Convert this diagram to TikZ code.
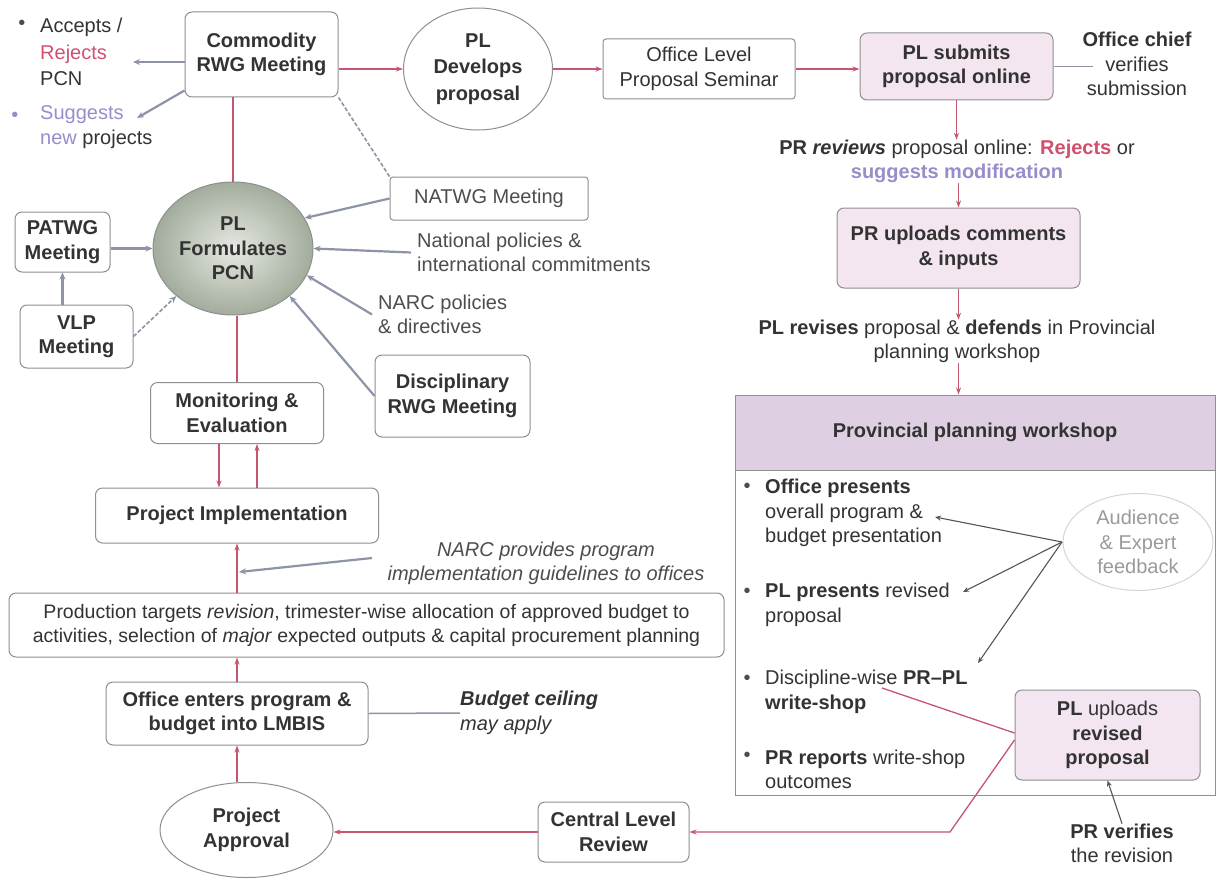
\documentclass[tikz,border=0pt]{standalone}
\usepackage{fontspec}
\setmainfont{Liberation Sans}
\usetikzlibrary{shapes.geometric,arrows.meta,calc}
\definecolor{txt}{HTML}{333333}
\definecolor{gtxt}{HTML}{4D4D4D}
\definecolor{bordc}{HTML}{8F8F8F}
\definecolor{redc}{HTML}{C4566F}
\definecolor{grayc}{HTML}{8D94A8}
\definecolor{lav}{HTML}{F3E6F1}
\definecolor{hdr}{HTML}{DED0E2}
\definecolor{rejc}{HTML}{D0506E}
\definecolor{sugc}{HTML}{9A8CCB}
\definecolor{audc}{HTML}{D5D5D5}
\definecolor{audt}{HTML}{9A9A9A}
\definecolor{formin}{HTML}{E6E9E2}
\definecolor{formout}{HTML}{A2AC9C}
\definecolor{arrd}{HTML}{555555}
\newcommand\fsz{\fontsize{20}{24.5}\selectfont}
\newcommand\fszw{\fontsize{20}{26.5}\selectfont}
\begin{document}
\begin{tikzpicture}[x=1pt,y=-1pt,
  box/.style={draw=bordc, line width=1pt, rounded corners=7pt, fill=white, align=center, inner sep=0pt, text=txt, font=\fsz\bfseries},
  lavbox/.style={box, fill=lav},
  oval/.style={ellipse, draw=bordc, line width=1pt, fill=white, align=center, inner sep=0pt, text=txt, font=\fsz\bfseries},
  shadedoval/.style={ellipse, draw=bordc, line width=1pt, align=center, inner sep=0pt, text=txt, font=\fsz\bfseries, inner color=formin, outer color=formout},
  lbl/.style={inner sep=0pt, text=txt, font=\fsz},
  redarr/.style={draw=redc, line width=1.3pt, -{Stealth[length=7pt,width=5pt]}},
  redln/.style={draw=redc, line width=1.3pt},
  grayarr/.style={draw=grayc, line width=2.2pt, -{Stealth[length=7pt,width=6pt]}},
  grayln/.style={draw=grayc, line width=1.5pt},
  dashln/.style={draw=grayc, line width=1.6pt, dash pattern=on 4pt off 2pt},
  darkarr/.style={draw=arrd, line width=1.1pt, -{Stealth[length=6pt,width=5pt]}},
]
\fill[white] (0,0) rectangle (1220,880);
\useasboundingbox (0,0) rectangle (1220,880);

% ---------- top row ----------
\node[box, minimum width=153, minimum height=85] (comm) at (261.5,54.5) {Commodity\\RWG Meeting};
\node[oval, font=\fszw\bfseries, minimum width=149, minimum height=122] (dev) at (478,69) {PL\\Develops\\proposal};
\node[box, rounded corners=3pt, font=\fsz, minimum width=192, minimum height=60] (olps) at (699,69) {Office Level\\Proposal Seminar};
\node[lavbox, minimum width=193, minimum height=67] (subm) at (956.5,66.5) {PL submits\\proposal online};
\node[lbl, align=center] (chief) at (1137,64) {\textbf{Office chief}\\verifies\\submission};

% ---------- left top texts ----------
\node[lbl, text=gtxt] (accb) at (22,25) {•};
\node[lbl, align=left, anchor=west, font=\fszw] (acc) at (40,52) {Accepts /\\{\color{rejc}Rejects}\\PCN};
\node[lbl, text=sugc] (sugb) at (15,117) {•};
\node[lbl, align=left, anchor=west] (sug) at (40,127) {{\color{sugc}Suggests}\\{\color{sugc}new} projects};

% ---------- right column ----------
\node[lbl, align=center] (prrev) at (957,161.5) {\textbf{PR \textit{reviews}} proposal online: {\color{rejc}\textbf{Rejects}} or\\{\color{sugc}\textbf{suggests modification}}};
\node[lavbox, minimum width=243, minimum height=80] (upl) at (958.5,248) {PR uploads comments\\\& inputs};
\node[lbl, align=center] (plrev) at (957,341.5) {\textbf{PL revises} proposal \& \textbf{defends} in Provincial\\planning workshop};

\node[draw=bordc, line width=1pt, minimum width=480, minimum height=400, inner sep=0pt] (ppw) at (975,595) {};
\node[draw=bordc, line width=1pt, fill=hdr, minimum width=480, minimum height=75, inner sep=0pt, text=txt, font=\fsz\bfseries] (ppwh) at (975,432.5) {Provincial planning workshop};

\node[lbl, text=gtxt] (bu1) at (747,488) {•};
\node[lbl, align=left, anchor=west] (b1) at (765,513) {\textbf{Office presents}\\overall program \&\\budget presentation};
\node[lbl, text=gtxt] (bu2) at (747,593) {•};
\node[lbl, align=left, anchor=west] (b2) at (765,605) {\textbf{PL presents} revised\\proposal};
\node[lbl, text=gtxt] (bu3) at (747,680) {•};
\node[lbl, align=left, anchor=west] (b3) at (765,692) {Discipline-wise \textbf{PR\textendash PL}\\\textbf{write-shop}};
\node[lbl, text=gtxt] (bu4) at (747,757) {•};
\node[lbl, align=left, anchor=west] (b4) at (765,769.5) {\textbf{PR reports} write-shop\\outcomes};

\node[ellipse, draw=audc, line width=1pt, minimum width=150, minimum height=97, inner sep=0pt, align=center, text=audt, font=\fsz] (aud) at (1138,542) {Audience\\\& Expert\\feedback};
\node[lavbox, font=\fsz, minimum width=185, minimum height=90] (plup) at (1107.5,735) {\textbf{PL} uploads\\\textbf{revised}\\\textbf{proposal}};
\node[lbl, align=center] (prv) at (1122,843.5) {\textbf{PR verifies}\\the revision};

% ---------- bottom row ----------
\node[box, minimum width=151, minimum height=60] (clr) at (613.5,832) {Central Level\\Review};
\node[oval, minimum width=173, minimum height=95] (appr) at (246.5,830) {Project\\Approval};
\node[box, minimum width=262, minimum height=63] (lmbis) at (237,713.5) {Office enters program \&\\budget into LMBIS};
\node[lbl, align=left, anchor=west] (budg) at (460,713) {\textbf{\textit{Budget ceiling}}\\\textit{may apply}};
\node[box, font=\fontsize{19.5}{24}\selectfont, minimum width=715, minimum height=64] (prod) at (366.5,625) {Production targets \textit{revision}, trimester-wise allocation of approved budget to\\activities, selection of \textit{major} expected outputs \& capital procurement planning};
\node[lbl, align=center, font=\fsz\itshape, text=gtxt] (narcp) at (546,563.5) {NARC provides program\\implementation guidelines to offices};
\node[box, minimum width=283, minimum height=55] (impl) at (237,515.5) {Project Implementation};
\node[box, minimum width=173, minimum height=61] (me) at (237,413) {Monitoring \&\\Evaluation};

% ---------- PCN cluster ----------
\node[shadedoval, minimum width=160, minimum height=133] (form) at (233,248.5) {PL\\Formulates\\PCN};
\node[box, rounded corners=3pt, font=\fsz, text=gtxt, minimum width=198, minimum height=43] (natwg) at (489,198.5) {NATWG Meeting};
\node[lbl, align=left, anchor=west, text=gtxt] (natl) at (417,252.5) {National policies \&\\international commitments};
\node[lbl, align=left, anchor=west, text=gtxt] (narcpol) at (378,314.5) {NARC policies\\\& directives};
\node[box, minimum width=155, minimum height=82] (disc) at (452.5,396) {Disciplinary\\RWG Meeting};
\node[box, minimum width=95, minimum height=60] (patwg) at (62.5,242) {PATWG\\Meeting};
\node[box, minimum width=113, minimum height=63] (vlp) at (76.5,336.5) {VLP\\Meeting};

% ---------- free ends ----------
\coordinate (accE) at (133,62);
\coordinate (sugE) at (137,118);
\coordinate (chiefE) at (1093,66.5);
\coordinate (narcS) at (372,558);
\coordinate (narcT) at (239,572);
\coordinate (audL) at (1062,542);
\coordinate (a1) at (935,517);
\coordinate (a2) at (963,592);
\coordinate (a3) at (978,663);
\coordinate (wsS) at (882,688);
\coordinate (bend) at (950,832);

% ---------- connectors ----------
\draw[grayarr] ($(comm.west)+(0,7.5)$) -- (accE);
\draw[grayarr] ($(comm.south west)+(0,-7)$) -- (sugE);
\draw[redarr] (comm.east |- dev.west) -- (dev.west);
\draw[redarr] (dev.east) -- (olps.west);
\draw[redarr] (olps.east) -- (olps.east -| subm.west);
\draw[grayln] (subm.east) -- (chiefE);
\draw[redarr] (subm.south) -- (subm.south |- prrev.north);
\draw[redarr] (prrev.south -| upl.north) -- (upl.north);
\draw[redarr] (upl.south) -- (upl.south |- plrev.north);
\draw[redarr] (plrev.south -| upl.south) -- (upl.south |- ppwh.north);

\draw[darkarr] (audL) -- (a1);
\draw[darkarr] (audL) -- (a2);
\draw[darkarr] (audL) -- (a3);
\draw[redln] (wsS) -- ($(plup.west)+(0,-2)$);
\draw[redarr] ($(plup.west)+(0,5)$) -- (bend) -- (clr.east);
\draw[darkarr] (prv.north) -- (plup.south);

\draw[redarr] (clr.west) -- (clr.west -| appr.east);
\draw[redarr] (appr.north -| lmbis.south) -- (lmbis.south);
\draw[grayln] (lmbis.east) -- (budg.west);
\draw[redarr] (lmbis.north) -- (prod.south -| lmbis.north);
\draw[redarr] (prod.north -| impl.south) -- (impl.south);
\draw[grayarr] (narcS) -- (narcT);
\draw[redarr] ([xshift=-18pt]me.south) -- ([xshift=-18pt]impl.north);
\draw[redarr] ([xshift=20pt]impl.north) -- ([xshift=20pt]me.south);
\draw[redln] (me.north) -- (me.north |- form.south);
\draw[redln] (form.north) -- (form.north |- comm.south);

\draw[dashln] (comm.south east) -- (natwg.north west);
\draw[grayarr] (natwg.west) -- (form.23);
\draw[grayarr] ([xshift=-6pt]natl.west) -- (form.east);
\draw[grayarr] ([xshift=-6pt]narcpol.west) -- (form.-20);
\draw[grayarr] (disc.west) -- (form.-40);
\draw[grayarr] (patwg.east |- form.west) -- (form.west);
\draw[dashln, -{Stealth[length=7pt,width=6pt]}] (vlp.east) -- (form.220);
\draw[grayarr] (vlp.north -| patwg.south) -- (patwg.south);
\end{tikzpicture}
\end{document}
